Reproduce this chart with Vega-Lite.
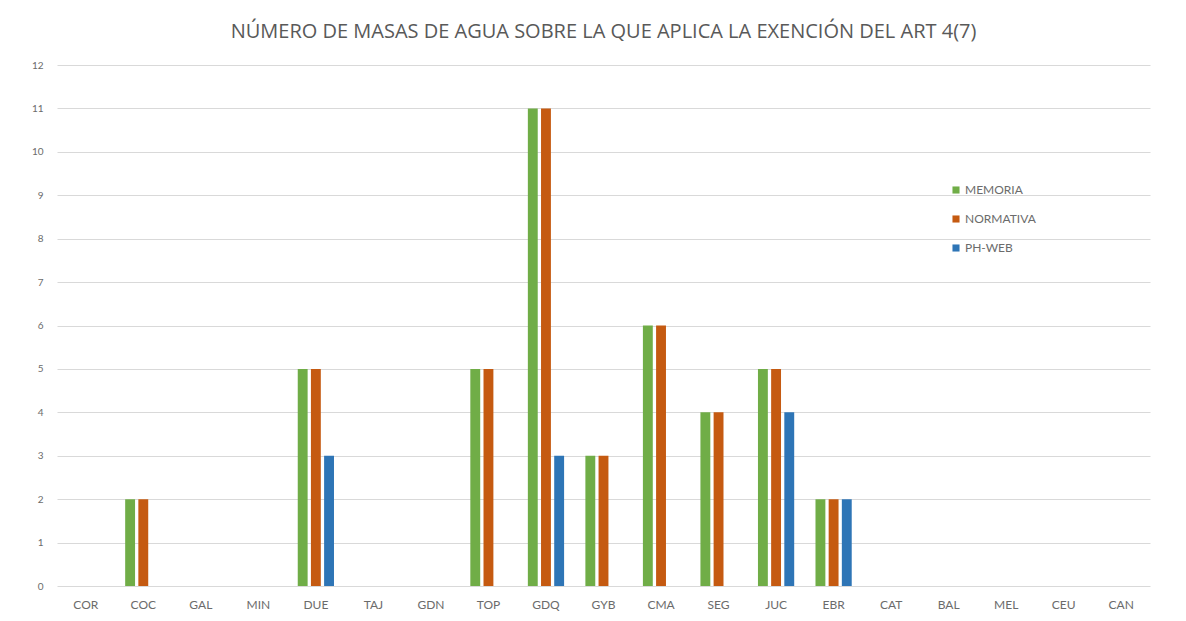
{
  "$schema": "https://vega.github.io/schema/vega-lite/v6.json",
  "width": 1093,
  "height": 521,
  "autosize": "none",
  "padding": {"left": 57, "top": 65, "right": 36, "bottom": 35},
  "background": "white",
  "config": {
    "font": "Lato",
    "view": {"stroke": null}
  },
  "title": {
    "text": "NÚMERO DE MASAS DE AGUA SOBRE LA QUE APLICA LA EXENCIÓN DEL ART 4(7)",
    "fontSize": 20,
    "fontWeight": "normal",
    "color": "#595959",
    "anchor": "middle",
    "offset": 18,
    "font": "Open Sans"
  },
  "data": {
    "values": [
      {"demarcacion": "COC", "fuente": "MEMORIA", "valor": 2},
      {"demarcacion": "COC", "fuente": "NORMATIVA", "valor": 2},
      {"demarcacion": "DUE", "fuente": "MEMORIA", "valor": 5},
      {"demarcacion": "DUE", "fuente": "NORMATIVA", "valor": 5},
      {"demarcacion": "DUE", "fuente": "PH-WEB", "valor": 3},
      {"demarcacion": "TOP", "fuente": "MEMORIA", "valor": 5},
      {"demarcacion": "TOP", "fuente": "NORMATIVA", "valor": 5},
      {"demarcacion": "GDQ", "fuente": "MEMORIA", "valor": 11},
      {"demarcacion": "GDQ", "fuente": "NORMATIVA", "valor": 11},
      {"demarcacion": "GDQ", "fuente": "PH-WEB", "valor": 3},
      {"demarcacion": "GYB", "fuente": "MEMORIA", "valor": 3},
      {"demarcacion": "GYB", "fuente": "NORMATIVA", "valor": 3},
      {"demarcacion": "CMA", "fuente": "MEMORIA", "valor": 6},
      {"demarcacion": "CMA", "fuente": "NORMATIVA", "valor": 6},
      {"demarcacion": "SEG", "fuente": "MEMORIA", "valor": 4},
      {"demarcacion": "SEG", "fuente": "NORMATIVA", "valor": 4},
      {"demarcacion": "JUC", "fuente": "MEMORIA", "valor": 5},
      {"demarcacion": "JUC", "fuente": "NORMATIVA", "valor": 5},
      {"demarcacion": "JUC", "fuente": "PH-WEB", "valor": 4},
      {"demarcacion": "EBR", "fuente": "MEMORIA", "valor": 2},
      {"demarcacion": "EBR", "fuente": "NORMATIVA", "valor": 2},
      {"demarcacion": "EBR", "fuente": "PH-WEB", "valor": 2}
    ]
  },
  "mark": {"type": "bar"},
  "encoding": {
    "x": {
      "field": "demarcacion",
      "type": "nominal",
      "sort": null,
      "scale": {
        "domain": ["COR", "COC", "GAL", "MIN", "DUE", "TAJ", "GDN", "TOP", "GDQ", "GYB", "CMA", "SEG", "JUC", "EBR", "CAT", "BAL", "MEL", "CEU", "CAN"],
        "paddingInner": 0.37,
        "paddingOuter": 0.185
      },
      "axis": {
        "title": null,
        "labelAngle": 0,
        "domain": false,
        "ticks": false,
        "labelFontSize": 12,
        "labelColor": "#6b6b6b",
        "labelPadding": 13
      }
    },
    "xOffset": {
      "field": "fuente",
      "type": "nominal",
      "scale": {"domain": ["MEMORIA", "NORMATIVA", "PH-WEB"], "paddingInner": 0.25}
    },
    "y": {
      "field": "valor",
      "type": "quantitative",
      "scale": {"domain": [0, 12]},
      "axis": {
        "title": null,
        "values": [0,1,2,3,4,5,6,7,8,9,10,11,12],
        "labelOverlap": false,
        "domain": false,
        "ticks": false,
        "labelFontSize": 10,
        "labelColor": "#6b6b6b",
        "labelPadding": 14,
        "gridColor": "#d9d9d9",
        "gridWidth": 1
      }
    },
    "color": {
      "field": "fuente",
      "type": "nominal",
      "scale": {"domain": ["MEMORIA", "NORMATIVA", "PH-WEB"], "range": ["#70AD47", "#C55A11", "#2E75B6"]},
      "legend": {
        "title": null,
        "orient": "none",
        "legendX": 893,
        "legendY": 119,
        "symbolType": "square",
        "symbolSize": 50,
        "rowPadding": 17,
        "labelFontSize": 12,
        "labelColor": "#6b6b6b",
        "labelOffset": 3
      }
    }
  }
}
